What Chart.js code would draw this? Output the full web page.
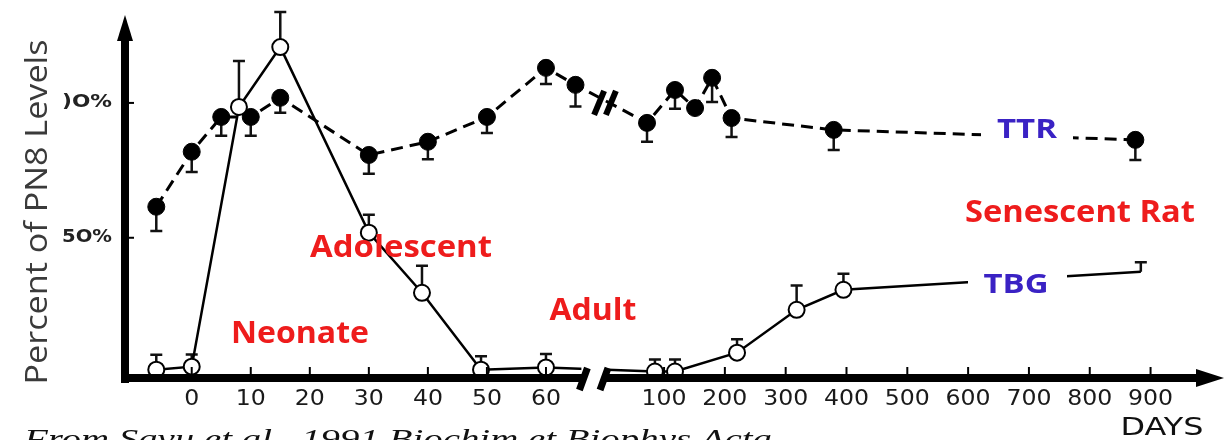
<!DOCTYPE html>
<html>
<head>
<meta charset="utf-8">
<script src="https://cdn.jsdelivr.net/npm/chart.js@4/dist/chart.umd.min.js"></script>
<style>
  html, body { margin: 0; padding: 0; background: #fff; }
  #wrap { width: 1232px; height: 440px; position: relative; }
</style>
</head>
<body>
<div id="wrap"><canvas id="mainChart" width="1232" height="440"></canvas></div>
<script>
// TTR (filled circles, dashed line)
const ttrDays = [-6, 0, 5, 10, 15, 30, 40, 50, 60, 65, 72, 118, 151, 179, 211, 379, 875];
const ttrValues = [61.5, 81.9, 94.8, 94.8, 101.9, 80.7, 85.6, 94.8, 113, 106.7, 92.6, 104.8, 98.1, 109.3, 94.4, 90, 86.3];
const ttrErrDown = [9, 7.5, 7, 7, 5.5, 7, 6.5, 6, 6, 8, 7, 7, 0, 9, 7, 7.5, 7.5];

// TBG (open circles, solid line)
const tbgDays = [-6, 0, 8, 15, 30, 39, 49, 60, 85, 118, 220, 318, 395, 884];
const tbgValues = [1.1, 2.2, 98.5, 120.7, 51.9, 29.6, 1.1, 1.9, 0.4, 0.4, 7.4, 23.3, 30.7, 37.4];
const tbgErrUp = [5.5, 4.5, 17, 13, 6.6, 10, 5, 5, 4.5, 4.5, 5, 9, 6, 3.5];

const leftTicks = [0, 10, 20, 30, 40, 50, 60];
const rightTicks = [100, 200, 300, 400, 500, 600, 700, 800, 900];
const yTicks = [50, 100];
const yTickLabels = ["5O%", ")O%"];

// broken time axis: days 0-60 in steps of 10, then 100-900 in steps of 100
function pos(day) {
  if (day <= 70) return day / 10;
  return 8 + (day - 100) / 100 * 1.03;
}

const red = "#ee1c1c";
const blue = "#3a22c4";

function fitText(ctx, text, cx, baseline, width, font, color) {
  ctx.save();
  ctx.font = font;
  ctx.fillStyle = color;
  ctx.textBaseline = "alphabetic";
  ctx.textAlign = "left";
  const w = ctx.measureText(text).width;
  ctx.translate(cx - width / 2, baseline);
  ctx.scale(width / w, 1);
  ctx.fillText(text, 0, 0);
  ctx.restore();
}

const decorations = {
  id: "decorations",
  beforeDatasetsDraw(chart) {
    const ctx = chart.ctx, x = chart.scales.x, y = chart.scales.y;
    ctx.save();
    ctx.strokeStyle = "#111";
    ctx.lineWidth = 2.5;
    function bar(day, v, e, dir) {
      if (!e) return;
      const px = x.getPixelForValue(pos(day));
      const y0 = y.getPixelForValue(v);
      const y1 = y.getPixelForValue(v + dir * e);
      ctx.beginPath();
      ctx.moveTo(px, y0); ctx.lineTo(px, y1);
      ctx.moveTo(px - 6, y1); ctx.lineTo(px + 6, y1);
      ctx.stroke();
    }
    ttrDays.forEach((d, i) => bar(d, ttrValues[i], ttrErrDown[i], -1));
    tbgDays.forEach((d, i) => bar(d, tbgValues[i], tbgErrUp[i], 1));
    ctx.restore();
  },
  afterDatasetsDraw(chart) {
    const ctx = chart.ctx, x = chart.scales.x, y = chart.scales.y;
    const a = chart.chartArea;
    const ax = a.left, ay = a.bottom;
    ctx.save();

    // gap in lines at the axis break
    const gL = x.getPixelForValue(6.6), gR = x.getPixelForValue(7.0);
    ctx.fillStyle = "#fff";
    ctx.fillRect(gL, ay - 14, gR - gL, 30);

    ctx.fillStyle = "#000";
    ctx.strokeStyle = "#000";
    // y axis
    ctx.lineWidth = 8;
    ctx.beginPath();
    ctx.moveTo(ax, ay + 5); ctx.lineTo(ax, a.top + 20);
    ctx.stroke();
    ctx.beginPath();
    ctx.moveTo(ax, a.top); ctx.lineTo(ax - 8, a.top + 26); ctx.lineTo(ax + 8, a.top + 26);
    ctx.closePath(); ctx.fill();

    // x axis, two pieces
    ctx.beginPath();
    ctx.moveTo(ax, ay); ctx.lineTo(gL + 3, ay);
    ctx.moveTo(gR - 2, ay); ctx.lineTo(a.right - 20, ay);
    ctx.stroke();
    ctx.lineWidth = 7;
    ctx.beginPath();
    ctx.moveTo(gL + 6, ay - 10); ctx.lineTo(gL - 2, ay + 12);
    ctx.moveTo(gR + 3, ay - 10); ctx.lineTo(gR - 5, ay + 12);
    ctx.stroke();
    ctx.beginPath();
    ctx.moveTo(a.right + 2, ay); ctx.lineTo(a.right - 26, ay - 9); ctx.lineTo(a.right - 26, ay + 9);
    ctx.closePath(); ctx.fill();

    // break marks on the TTR line
    ctx.lineWidth = 6;
    [6.9, 7.1].forEach(p => {
      const px = x.getPixelForValue(p), py = y.getPixelForValue(100);
      ctx.beginPath();
      ctx.moveTo(px - 5, py + 12); ctx.lineTo(px + 5, py - 12);
      ctx.stroke();
    });

    // x ticks and labels
    ctx.lineWidth = 2;
    leftTicks.concat(rightTicks).forEach(t => {
      const px = x.getPixelForValue(pos(t));
      ctx.beginPath();
      ctx.moveTo(px, ay); ctx.lineTo(px, ay - 11);
      ctx.stroke();
      const s = String(t);
      fitText(ctx, s, px, ay + 27, s.length * 15, "500 21px 'DejaVu Sans'", "#1a1a1a");
    });
    fitText(ctx, "DAYS", 1162, 435, 83, "24px 'DejaVu Sans'", "#111");

    // y ticks and labels
    yTicks.forEach((t, i) => {
      const py = y.getPixelForValue(t);
      ctx.beginPath();
      ctx.moveTo(ax, py); ctx.lineTo(ax + 9, py);
      ctx.stroke();
      fitText(ctx, yTickLabels[i], 87, py + 4, 50, "bold 18px 'DejaVu Sans'", "#222");
    });

    // axis title
    ctx.save();
    ctx.translate(47, 212);
    ctx.rotate(-Math.PI / 2);
    fitText(ctx, "Percent of PN8 Levels", 0, 0, 345, "31px 'Open Sans'", "#3a3a3a");
    ctx.restore();

    // series labels with white backing over the lines
    ctx.fillStyle = "#fff";
    ctx.fillRect(981, 112, 92, 30);
    ctx.fillRect(968, 264, 99, 32);
    fitText(ctx, "TTR", 1027, 138, 60, "bold 27px 'Open Sans'", blue);
    fitText(ctx, "TBG", 1016, 293, 65, "bold 27px 'Open Sans'", blue);

    // life stages
    fitText(ctx, "Neonate", 300, 343, 138, "bold 30px 'Open Sans'", red);
    fitText(ctx, "Adolescent", 401, 257, 182, "bold 30px 'Open Sans'", red);
    fitText(ctx, "Adult", 593, 320, 87, "bold 30px 'Open Sans'", red);
    fitText(ctx, "Senescent Rat", 1080, 222, 230, "bold 30px 'Open Sans'", red);

    // source line, cut off at the bottom
    fitText(ctx, "From Savu et al., 1991 Biochim et Biophys Acta", 398, 448, 748, "italic 28px 'Liberation Serif'", "#111");
    ctx.restore();
  }
};

new Chart("mainChart", {
  type: "line",
  data: {
    datasets: [{
      label: "TTR",
      data: ttrDays.map((d, i) => ({ x: pos(d), y: ttrValues[i] })),
      borderColor: "#000",
      borderWidth: 3,
      borderDash: [12, 7],
      pointRadius: 8.5,
      pointBackgroundColor: "#000",
      pointBorderColor: "#000",
      pointBorderWidth: 1,
      clip: false,
      order: 1
    }, {
      label: "TBG",
      data: tbgDays.map((d, i) => ({ x: pos(d), y: tbgValues[i] })),
      borderColor: "#000",
      borderWidth: 2.5,
      pointRadius: tbgDays.map((d, i) => i === tbgDays.length - 1 ? 0 : 8),
      pointBackgroundColor: "#fff",
      pointBorderColor: "#000",
      pointBorderWidth: 2,
      clip: false,
      order: 0
    }]
  },
  options: {
    responsive: false,
    animation: false,
    layout: { padding: { left: 125, right: 7, top: 15, bottom: 62 } },
    plugins: { legend: { display: false }, tooltip: { enabled: false } },
    scales: {
      x: { type: "linear", min: -1.13, max: 17.45, display: false },
      y: { type: "linear", min: -2, max: 132.6, display: false }
    }
  },
  plugins: [decorations]
});
</script>
</body>
</html>
